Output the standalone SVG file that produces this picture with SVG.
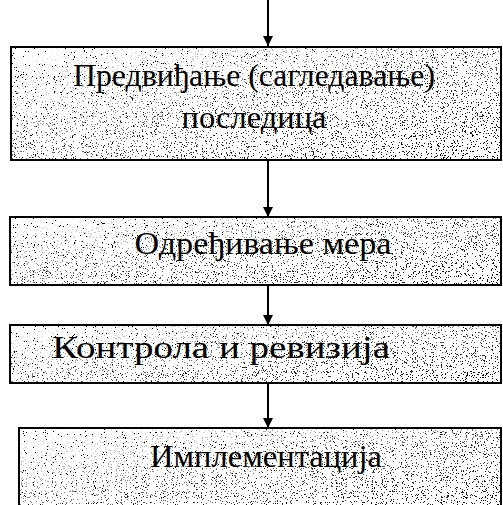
<svg xmlns="http://www.w3.org/2000/svg" width="503" height="505" viewBox="0 0 503 505">
<style>
.box{fill:none;stroke:#000;stroke-width:2}
.bg{fill:#fff}
.sp{fill:#fff;filter:url(#speck)}
.sp2{fill:#fff;filter:url(#speck2)}
.t{font-family:"Liberation Serif","DejaVu Serif",serif;font-size:31px;fill:#000;text-anchor:middle}
.c{stroke:#000;stroke-width:2;fill:none}
</style>
<defs>
<filter id="speck" x="0" y="0" width="100%" height="100%" filterUnits="objectBoundingBox">
<feTurbulence type="fractalNoise" baseFrequency="0.9" numOctaves="2" seed="7" result="n"/>
<feColorMatrix in="n" type="matrix" values="0 0 0 0 0  0 0 0 0 0  0 0 0 0 0  1.6 0 0 0 -0.45" result="a"/>
<feComponentTransfer in="a" result="d"><feFuncA type="discrete" tableValues="0 0 0 0 0 0 0 1 1 1"/></feComponentTransfer>
<feComposite operator="in" in="d" in2="SourceGraphic"/>
</filter>
<filter id="speck2" x="0" y="0" width="100%" height="100%" filterUnits="objectBoundingBox">
<feTurbulence type="fractalNoise" baseFrequency="0.8" numOctaves="2" seed="21" result="n"/>
<feColorMatrix in="n" type="matrix" values="0 0 0 0 0  0 0 0 0 0  0 0 0 0 0  1.6 0 0 0 -0.45" result="a"/>
<feComponentTransfer in="a" result="d"><feFuncA type="discrete" tableValues="0 0 0 0 0 0 1 1 1 1"/></feComponentTransfer>
<feComposite operator="in" in="d" in2="SourceGraphic"/>
</filter>
<linearGradient id="fade" x1="0" y1="0" x2="1" y2="1">
<stop offset="0" stop-color="#fff" stop-opacity="0"/>
<stop offset="0.5" stop-color="#fff" stop-opacity="0.6"/>
<stop offset="1" stop-color="#fff" stop-opacity="1"/>
</linearGradient>
<mask id="m1" maskContentUnits="objectBoundingBox">
<rect x="0" y="0" width="1" height="1" fill="url(#fade)"/>
</mask>
<marker id="ah" markerWidth="12" markerHeight="12" refX="11" refY="6" orient="auto" markerUnits="userSpaceOnUse" viewBox="0 0 12 12">
<path d="M1,1 L11,6 L1,11 Z" fill="#000"/>
</marker>
</defs>
<g id="node1">
<rect class="bg" x="11" y="47" width="490" height="113"/>
<rect class="sp" x="11" y="47" width="490" height="113"/>
<rect class="sp2" x="11" y="47" width="490" height="113" mask="url(#m1)"/>
<rect class="box" x="11" y="47" width="490" height="113"/>
<text class="t" x="254" y="86" textLength="362" lengthAdjust="spacingAndGlyphs">Предвиђање (сагледавање)</text>
<text class="t" x="254" y="128" textLength="145" lengthAdjust="spacingAndGlyphs">последица</text>
</g>
<g id="node2">
<rect class="bg" x="10" y="217" width="491" height="68"/>
<rect class="sp" x="10" y="217" width="491" height="68"/>
<rect class="sp2" x="10" y="217" width="491" height="68" mask="url(#m1)"/>
<rect class="box" x="10" y="217" width="491" height="68"/>
<text class="t" x="263" y="254" textLength="257" lengthAdjust="spacingAndGlyphs">Одређивање мера</text>
</g>
<g id="node3">
<rect class="bg" x="10" y="325" width="491" height="58"/>
<rect class="sp" x="10" y="325" width="491" height="58"/>
<rect class="sp2" x="10" y="325" width="491" height="58" mask="url(#m1)"/>
<rect class="box" x="10" y="325" width="491" height="58"/>
<text class="t" x="221" y="358" textLength="338" lengthAdjust="spacingAndGlyphs">Контрола и ревизија</text>
</g>
<g id="node4">
<rect class="bg" x="19" y="428" width="482" height="90"/>
<rect class="sp" x="19" y="428" width="482" height="90"/>
<rect class="sp2" x="19" y="428" width="482" height="90" mask="url(#m1)"/>
<rect class="box" x="19" y="428" width="482" height="90"/>
<text class="t" x="266" y="467" textLength="232" lengthAdjust="spacingAndGlyphs">Имплементација</text>
</g>
<g id="connectors">
<line class="c" x1="268" y1="0" x2="268" y2="46" marker-end="url(#ah)"/>
<line class="c" x1="268" y1="161" x2="268" y2="217" marker-end="url(#ah)"/>
<line class="c" x1="268" y1="286" x2="268" y2="325" marker-end="url(#ah)"/>
<line class="c" x1="268" y1="384" x2="268" y2="428" marker-end="url(#ah)"/>
</g>
</svg>
